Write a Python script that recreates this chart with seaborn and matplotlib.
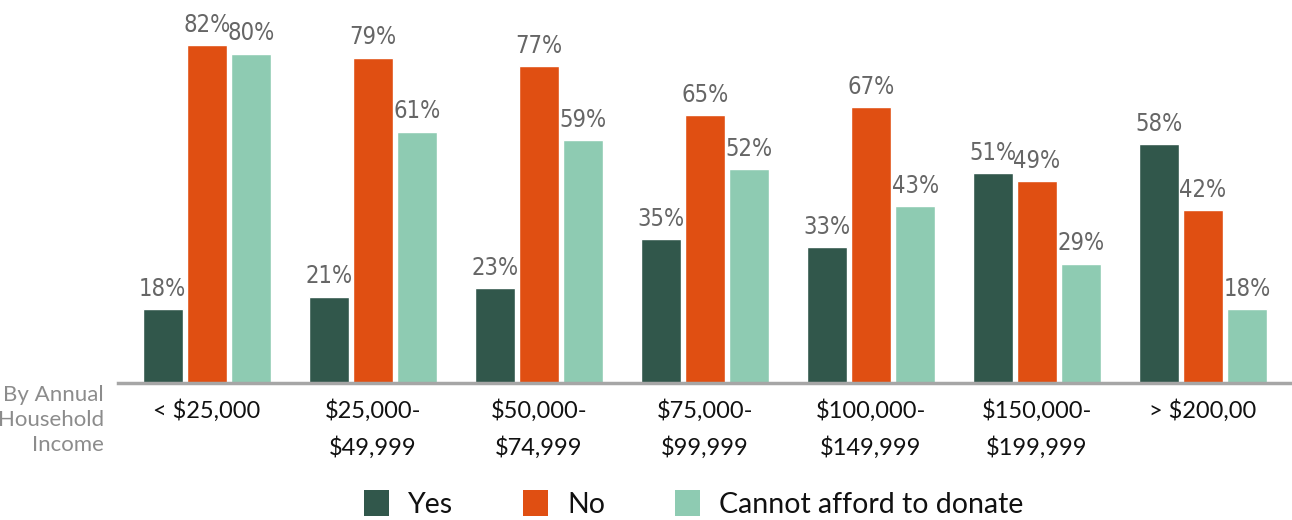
import matplotlib
matplotlib.use("Agg")
import matplotlib.pyplot as plt
import seaborn as sns
import pandas as pd
from matplotlib.patches import Patch

categories = ["< $25,000", "$25,000-\n$49,999", "$50,000-\n$74,999", "$75,000-\n$99,999",
              "$100,000-\n$149,999", "$150,000-\n$199,999", "> $200,00"]
series_names = ["Yes", "No", "Cannot afford to donate"]
yes_vals = [18, 21, 23, 35, 33, 51, 58]
no_vals = [82, 79, 77, 65, 67, 49, 42]
cannot_vals = [80, 61, 59, 52, 43, 29, 18]
colors = ["#31574B", "#E04F12", "#8ECBB2"]

rows = []
for name, vals in zip(series_names, [yes_vals, no_vals, cannot_vals]):
    for c, v in zip(categories, vals):
        rows.append({"category": c, "series": name, "value": v})
df = pd.DataFrame(rows)

sns.set_theme(style="white")
plt.rcParams['font.family'] = ['Lato', 'DejaVu Sans']

fig = plt.figure(figsize=(12.92, 5.2), dpi=100)
ax = fig.add_axes([118 / 1292, 137 / 520, 1 - 118 / 1292, 383 / 520])

sns.barplot(data=df, x="category", y="value", hue="series", order=categories,
            hue_order=series_names, palette=colors, width=0.8, gap=0.09,
            saturation=1, ax=ax, legend=False)

for cont in ax.containers:
    ax.bar_label(cont, fmt="%d%%", padding=6, fontsize=17, color="#666666",
                 family='DejaVu Sans', fontstretch='condensed')

ax.set_ylim(0, 93)
ax.set_xlim(-0.536, 6.536)
ax.set_xlabel("")
ax.set_ylabel("")
ax.set_yticks([])
for s in ["top", "right", "left"]:
    ax.spines[s].set_visible(False)
ax.spines["bottom"].set_color("#A6A6A6")
ax.spines["bottom"].set_linewidth(2.5)
ax.tick_params(axis="x", length=0, pad=12, labelsize=17, labelcolor="#111111")
for lbl in ax.get_xticklabels():
    lbl.set_linespacing(1.75)
    lbl.set_verticalalignment("top")

fig.text(104 / 1292, 1 - 385 / 520, "By Annual\nHousehold\nIncome", ha="right", va="top",
         fontsize=16, color="#8C8C8C", linespacing=1.3)

handles = [Patch(facecolor=c, edgecolor="none") for c in colors]
fig.legend(handles, series_names, loc="lower center", bbox_to_anchor=(0.537, -0.045),
           ncol=3, frameon=False, fontsize=20.5, handlelength=0.88, handleheight=1.05,
           columnspacing=2.45, handletextpad=0.67, labelcolor="#111111")

fig.savefig("out.png", dpi=100)
